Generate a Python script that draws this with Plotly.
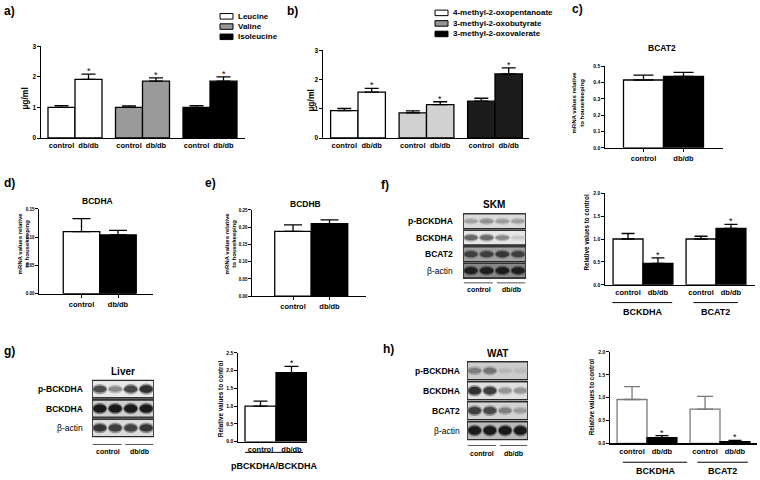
import plotly.graph_objects as go

W, H = 760, 480
FONT = "Liberation Sans"

# ---------------- data ----------------
conditions = ["control", "db/db"]

a_series = ["Leucine", "Valine", "Isoleucine"]
a_control = [1.00, 1.00, 1.00]
a_control_err = [0.06, 0.05, 0.06]
a_dbdb = [1.92, 1.86, 1.86]
a_dbdb_err = [0.17, 0.11, 0.14]
a_yticks = [0, 1, 2, 3]

b_series = ["4-methyl-2-oxopentanoate", "3-methyl-2-oxobutyrate", "3-methyl-2-oxovalerate"]
b_control = [0.94, 0.86, 1.26]
b_control_err = [0.07, 0.07, 0.10]
b_dbdb = [1.57, 1.14, 2.19]
b_dbdb_err = [0.13, 0.10, 0.21]
b_yticks = [0, 1, 2, 3]

c_title = "BCAT2"
c_values = [0.415, 0.437]
c_err = [0.030, 0.025]
c_yticks = [0.0, 0.1, 0.2, 0.3, 0.4, 0.5]

d_title = "BCDHA"
d_values = [0.110, 0.104]
d_err = [0.023, 0.008]
d_yticks = [0.00, 0.05, 0.10, 0.15]

e_title = "BCDHB"
e_values = [0.188, 0.210]
e_err = [0.019, 0.011]
e_yticks = [0.00, 0.05, 0.10, 0.15, 0.20, 0.25]

f_groups = ["BCKDHA", "BCAT2"]
f_control = [1.00, 1.00]
f_control_err = [0.12, 0.06]
f_dbdb = [0.47, 1.23]
f_dbdb_err = [0.12, 0.09]
f_yticks = [0.0, 0.5, 1.0, 1.5, 2.0]

g_group = "pBCKDHA/BCKDHA"
g_values = [1.00, 1.94]
g_err = [0.14, 0.18]
g_yticks = [0.0, 0.5, 1.0, 1.5, 2.0, 2.5]

h_groups = ["BCKDHA", "BCAT2"]
h_control = [0.96, 0.75]
h_control_err = [0.28, 0.28]
h_dbdb = [0.13, 0.04]
h_dbdb_err = [0.04, 0.03]
h_yticks = [0.0, 0.5, 1.0, 1.5, 2.0]

# western blots: band darkness per lane (2 control lanes, 2 db/db lanes)
skm_rows = ["p-BCKDHA", "BCKDHA", "BCAT2", "β-actin"]
skm_bands = [[0.30, 0.38, 0.32, 0.30],
             [0.62, 0.60, 0.45, 0.15],
             [0.72, 0.72, 0.78, 0.72],
             [0.95, 0.95, 0.97, 0.95]]
liver_rows = ["p-BCKDHA", "BCKDHA", "β-actin"]
liver_bands = [[0.75, 0.45, 0.78, 0.88],
               [1.00, 1.00, 1.00, 1.00],
               [0.85, 0.80, 0.78, 0.85]]
wat_rows = ["p-BCKDHA", "BCKDHA", "BCAT2", "β-actin"]
wat_bands = [[0.45, 0.50, 0.12, 0.10],
             [0.88, 0.82, 0.38, 0.38],
             [0.80, 0.75, 0.45, 0.30],
             [1.00, 1.00, 1.00, 1.00]]

# ---------------- styles ----------------
a_colors = ["#ffffff", "#9a9a9a", "#000000"]
b_colors = ["#ffffff", "#d2d2d2", "#1c1c1c"]
b_legend_colors = ["#ffffff", "#959595", "#000000"]
skm_bg = [218, 230, 160, 135]
liver_bg = [232, 206, 220]
wat_bg = [204, 224, 210, 186]

fig = go.Figure()
lay = dict(width=W, height=H, autosize=False, margin=dict(l=0, r=0, t=0, b=0),
           paper_bgcolor="white", plot_bgcolor="white", showlegend=False,
           barmode="overlay", font=dict(family=FONT, color="black"))
annotations = []
shapes = []


def names(k):
    return ("xaxis" if k == 1 else f"xaxis{k}"), ("yaxis" if k == 1 else f"yaxis{k}")


def refs(k):
    return ("x" if k == 1 else f"x{k}"), ("y" if k == 1 else f"y{k}")


def px(x):
    return x / W


def py(y):
    return 1 - y / H


def text(x, y, s, size, bold=True, xanchor="center", yanchor="middle", angle=0,
         xref="paper", yref="paper", color="black"):
    annotations.append(dict(
        x=px(x) if xref == "paper" else x, y=py(y) if yref == "paper" else y,
        xref=xref, yref=yref, text=(f"<b>{s}</b>" if bold else s), showarrow=False,
        xanchor=xanchor, yanchor=yanchor, textangle=angle,
        font=dict(size=size, family=FONT, color=color)))


def bar_axes(k, x0, x1, top, zero, c0, unit, yticks, fmt, tickvals, ticktext,
             xticks=False, ysize=5):
    xn, yn = names(k)
    xr, yr = refs(k)
    lay[xn] = dict(domain=[px(x0), px(x1)], range=[(x0 - c0) / unit, (x1 - c0) / unit],
                   anchor=yr, showline=True, linecolor="black", linewidth=1.2,
                   showgrid=False, zeroline=False, tickmode="array", tickvals=tickvals,
                   ticktext=ticktext, ticks="outside" if xticks else "", ticklen=3,
                   tickwidth=1, tickcolor="black",
                   tickfont=dict(size=7.5, family=FONT, color="black", weight="bold"),
                   fixedrange=True)
    lay[yn] = dict(domain=[1 - zero / H, 1 - top / H], range=[0, yticks[-1]],
                   anchor=xr, showline=True, linecolor="black", linewidth=1.2,
                   showgrid=False, zeroline=False, tickmode="array", tickvals=yticks,
                   ticktext=[format(v, fmt) for v in yticks], ticks="outside", ticklen=2.5,
                   tickwidth=1, tickcolor="black",
                   tickfont=dict(size=ysize, family=FONT, color="black", weight="bold"),
                   fixedrange=True)


def bars(k, x, y, err, fill, line, width, capw, errcolor="black"):
    xr, yr = refs(k)
    fig.add_trace(go.Bar(
        x=x, y=y, width=width, xaxis=xr, yaxis=yr, hoverinfo="skip",
        marker=dict(color=fill, line=dict(color=line, width=1.3)),
        error_y=dict(type="data", array=err, arrayminus=[0] * len(err), symmetric=False,
                     color=errcolor, thickness=1.3, width=capw)))


def star(k, x, top):
    xr, yr = refs(k)
    annotations.append(dict(x=x, y=top, xref=xr, yref=yr, text="*", showarrow=False,
                            yanchor="bottom", yshift=-4,
                            font=dict(size=9, family=FONT, color="black")))


def group_line(k, xa, xb, ypx, label, label_y, size=9):
    xr, _ = refs(k)
    shapes.append(dict(type="line", xref=xr, yref="paper", x0=xa, x1=xb,
                       y0=py(ypx), y1=py(ypx), line=dict(color="black", width=1)))
    text((xa + xb) / 2, label_y, label, size, xref=xr)


# ---------- a) ----------
k = 1
pos_a = []
for g, name in enumerate(a_series):
    pos_a += [g - 0.2, g + 0.2]
bar_axes(k, 41, 245, 43, 136, 75, 67.5, a_yticks, "d", pos_a, conditions * 3, ysize=6.5)
for g, name in enumerate(a_series):
    bars(k, [g - 0.2, g + 0.2], [a_control[g], a_dbdb[g]], [a_control_err[g], a_dbdb_err[g]],
         a_colors[g], "black", 0.4, 7)
    star(k, g + 0.2, a_dbdb[g] + a_dbdb_err[g])
text(25, 96, "µg/ml", 8.5, angle=-90)
for i, name in enumerate(a_series):
    cy = 12.5 + i * 10.4
    shapes.append(dict(type="rect", xref="paper", yref="paper", x0=px(220), x1=px(233),
                       y0=py(cy + 2.8), y1=py(cy - 2.8), fillcolor=a_colors[i],
                       line=dict(color="black", width=1)))
    text(236, cy, name, 8, xanchor="left")

# ---------- b) ----------
k = 2
pos_b = []
for g, name in enumerate(b_series):
    pos_b += [g - 0.2, g + 0.2]
bar_axes(k, 323, 529, 47, 136, 358, 68.5, b_yticks, "d", pos_b, conditions * 3, ysize=6.5)
for g, name in enumerate(b_series):
    bars(k, [g - 0.2, g + 0.2], [b_control[g], b_dbdb[g]], [b_control_err[g], b_dbdb_err[g]],
         b_colors[g], "black", 0.4, 7)
    star(k, g + 0.2, b_dbdb[g] + b_dbdb_err[g])
text(311, 98, "µg/ml", 8.5, angle=-90)
for i, name in enumerate(b_series):
    cy = 9 + i * 10.7
    shapes.append(dict(type="rect", xref="paper", yref="paper", x0=px(435), x1=px(448),
                       y0=py(cy + 2.8), y1=py(cy - 2.8), fillcolor=b_legend_colors[i],
                       line=dict(color="black", width=1)))
    text(451, cy, name, 8, xanchor="left")

# ---------- c) ----------
k = 3
bar_axes(k, 605, 723, 63, 146, 643.5, 40, c_yticks, ".1f", [0, 1], conditions, xticks=True)
bars(k, [0, 1], c_values, c_err, ["#ffffff", "#000000"], "black", 1.0, 10)
text(662, 45, c_title, 8.5)
text(578, 100, "mRNA values relative<br>to housekeeping", 6, angle=-90)

# ---------- d) ----------
k = 4
bar_axes(k, 39, 153, 208, 294, 81.5, 36.5, d_yticks, ".2f", [0, 1], conditions, xticks=True,
         ysize=4.5)
bars(k, [0, 1], d_values, d_err, ["#ffffff", "#000000"], "black", 1.0, 9)
text(97, 200, d_title, 8.5)
text(24, 243, "mRNA values relative<br>to housekeeping", 6, angle=-90)

# ---------- e) ----------
k = 5
bar_axes(k, 252, 366, 209, 296.5, 293, 36.5, e_yticks, ".2f", [0, 1], conditions, xticks=True,
         ysize=4.5)
bars(k, [0, 1], e_values, e_err, ["#ffffff", "#000000"], "black", 1.0, 9)
text(305, 203, e_title, 8.5)
text(231, 243, "mRNA values relative<br>to housekeeping", 6, angle=-90)

# ---------- f) bar ----------
k = 6
pos_f = []
for g in range(len(f_groups)):
    pos_f += [g - 0.205, g + 0.205]
bar_axes(k, 605, 755, 192, 285, 643, 73, f_yticks, ".1f", pos_f, conditions * 2)
bars(k, [g - 0.205 for g in range(2)], f_control, f_control_err, "#ffffff", "black", 0.41, 6.5)
bars(k, [g + 0.205 for g in range(2)], f_dbdb, f_dbdb_err, "#000000", "black", 0.41, 6.5)
for g in range(2):
    star(k, g + 0.205, f_dbdb[g] + f_dbdb_err[g])
f_line = [(-0.42, 0.40), (0.69, 1.30)]
for g, name in enumerate(f_groups):
    group_line(k, f_line[g][0], f_line[g][1], 303, name, 313)
text(587, 232, "Relative values to control", 6.3, angle=-90)

# ---------- g) bar ----------
k = 7
bar_axes(k, 238, 307, 354, 444, 260.5, 31, g_yticks, ".1f", [0, 1], conditions)
bars(k, [0, 1], g_values, g_err, ["#ffffff", "#000000"], "black", 1.0, 7)
star(k, 1, g_values[1] + g_err[1])
group_line(k, -0.5, 1.37, 455, g_group, 469)
text(220, 401, "Relative values to control", 6.3, angle=-90)

# ---------- h) bar ----------
k = 8
pos_h = []
for g in range(len(h_groups)):
    pos_h += [g - 0.205, g + 0.205]
bar_axes(k, 610, 757, 353, 446, 647, 73, h_yticks, ".1f", pos_h, conditions * 2)
bars(k, [g - 0.205 for g in range(2)], h_control, h_control_err, "#ffffff", "#7a7a7a", 0.41, 8,
     errcolor="#7a7a7a")
bars(k, [g + 0.205 for g in range(2)], h_dbdb, h_dbdb_err, "#000000", "black", 0.41, 6.5)
for g in range(2):
    star(k, g + 0.205, h_dbdb[g] + h_dbdb_err[g])
h_line = [(-0.33, 0.55), (0.69, 1.38)]
for g, name in enumerate(h_groups):
    group_line(k, h_line[g][0], h_line[g][1], 465, name, 474)
text(591, 399, "Relative values to control", 6.3, angle=-90)


# ---------- western blots ----------
def grey(v):
    v = int(max(0, min(255, v)))
    return f"rgb({v},{v},{v})"


def blot(k, x0, x1, top, bottom, rows, bands, bgs, title, title_y, label_right,
         line_y, lab_y):
    xn, yn = names(k)
    xr, yr = refs(k)
    n = len(rows)
    lay[xn] = dict(domain=[px(x0), px(x1)], range=[0.5, 4.5], visible=False, anchor=yr,
                   fixedrange=True)
    lay[yn] = dict(domain=[1 - bottom / H, 1 - top / H], range=[n, 0], visible=False,
                   anchor=xr, fixedrange=True)
    fig.add_trace(go.Scatter(x=[1, 4], y=[0.5, 0.5], mode="markers", xaxis=xr, yaxis=yr,
                             marker=dict(opacity=0), hoverinfo="skip"))
    for i, (name, row, bg) in enumerate(zip(rows, bands, bgs)):
        shapes.append(dict(type="rect", xref=xr, yref=yr, x0=0.5, x1=4.5, y0=i + 0.05,
                           y1=i + 0.95, fillcolor=grey(bg),
                           line=dict(color="#2a2a2a", width=1.2)))
        for j, dk in enumerate(row, start=1):
            v = bg - (bg - 25) * dk
            hgt = 0.16 + 0.26 * dk
            shapes.append(dict(type="circle", xref=xr, yref=yr, x0=j - 0.49, x1=j + 0.49,
                               y0=i + 0.5 - hgt / 2 - 0.09, y1=i + 0.5 + hgt / 2 + 0.09,
                               fillcolor=grey(bg - (bg - v) * 0.45), line=dict(width=0)))
            shapes.append(dict(type="circle", xref=xr, yref=yr, x0=j - 0.42, x1=j + 0.42,
                               y0=i + 0.5 - hgt / 2, y1=i + 0.5 + hgt / 2,
                               fillcolor=grey(v), line=dict(width=0)))
        shapes.append(dict(type="rect", xref=xr, yref=yr, x0=0.5, x1=4.5, y0=i + 0.05,
                           y1=i + 0.95, fillcolor="rgba(0,0,0,0)",
                           line=dict(color="#2a2a2a", width=1.2)))
        is_actin = name.startswith("β")
        text(label_right, i + 0.5, name, 8.5, bold=not is_actin, xanchor="right", yref=yr)
    text(2.5, title_y, title, 10, xref=xr)
    for (la, lb), lab, cx in zip([(0.55, 2.4), (2.65, 4.45)], conditions, [1.5, 3.55]):
        shapes.append(dict(type="line", xref=xr, yref="paper", x0=la, x1=lb,
                           y0=py(line_y), y1=py(line_y), line=dict(color="#555555", width=1)))
        text(cx, lab_y, lab, 7, xref=xr)


blot(9, 463, 526, 212, 279, skm_rows, skm_bands, skm_bg, "SKM", 203, 455, 283, 290)
blot(10, 92, 154, 381, 440, liver_rows, liver_bands, liver_bg, "Liver", 373, 85, 447, 454)
blot(11, 467, 528, 362, 443, wat_rows, wat_bands, wat_bg, "WAT", 355, 462, 448, 456)

# ---------- panel labels ----------
for lbl, x, y in [("a)", 9, 7), ("b)", 292, 7), ("c)", 577, 5), ("d)", 9, 182),
                  ("e)", 210, 182), ("f)", 385, 184), ("g)", 9, 352), ("h)", 388, 350)]:
    text(x, y, lbl, 12)

lay["annotations"] = annotations
lay["shapes"] = shapes
fig.update_layout(**lay)
fig.write_html("out.html", config={"displayModeBar": False, "staticPlot": True},
               post_script="document.body.style.margin='0px';"
                           "document.body.style.overflow='hidden';")
